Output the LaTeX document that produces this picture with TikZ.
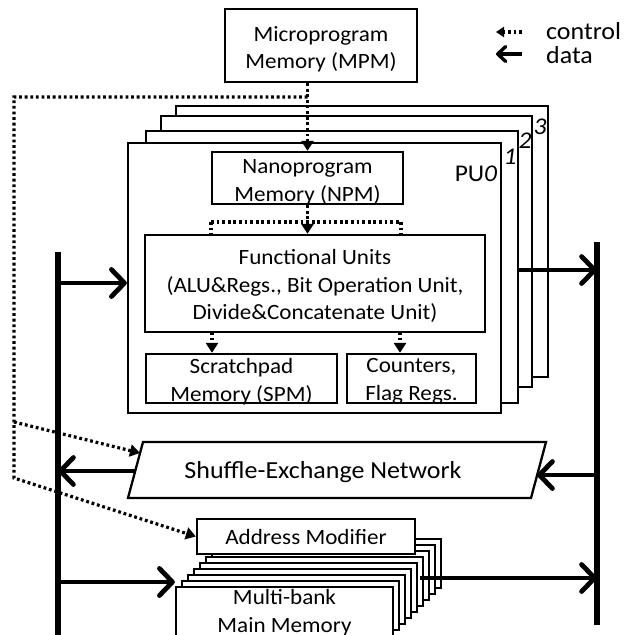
\documentclass[tikz,border=0pt]{standalone}
\usepackage{fontspec}
\setmainfont{Carlito}[FakeStretch=1.06]
\usetikzlibrary{arrows.meta}
\begin{document}
\begin{tikzpicture}[x=1pt,y=-1pt,
  box/.style={draw, line width=2.3pt, fill=white, inner sep=0pt},
  txt/.style={inner sep=0pt, align=center, font=\fontsize{21.8}{27.5}\selectfont},
  membox/.style={draw, line width=2.3pt, fill=white, inner sep=0pt, minimum width=217pt, minimum height=49pt},
  ctrl/.style={line width=3.2pt, dash pattern=on 2.8pt off 2.8pt, -{Triangle[length=10pt,width=12pt]}},
  ctrlplain/.style={line width=3.2pt, dash pattern=on 2.8pt off 2.8pt},
  data/.style={line width=4.8pt, -{Straight Barb[length=13pt,width=27pt,round]}},
  legdata/.style={line width=3.4pt, -{Straight Barb[length=8pt,width=15pt,round]}},
  legctrl/.style={line width=3.2pt, dash pattern=on 2.8pt off 2.8pt, -{Triangle[length=8pt,width=10pt]}},
  bus/.style={line width=5.5pt},
  lbl/.style={inner sep=0pt, font=\fontsize{24.5}{28}\selectfont}]
\useasboundingbox (0,0) rectangle (630,635);
\fill[white] (0,0) rectangle (630,635);

% legend
\node[lbl, anchor=west] (lgc) at (546,31) {control};
\node[lbl, anchor=west] (lgd) at (546,55) {data};
\coordinate (lc1) at (522,32);
\coordinate (lc0) at (496,32);
\coordinate (ld1) at (522,54);
\coordinate (ld0) at (496,54);
\draw[legctrl] (lc1) -- (lc0);
\draw[legdata] (ld1) -- (ld0);

% PU stack
\node[box, minimum width=372pt, minimum height=271pt] (pu3) at (362,241.5) {};
\node[box, minimum width=371pt, minimum height=271pt] (pu2) at (346.5,251.5) {};
\node[box, minimum width=372pt, minimum height=272pt] (pu1) at (332,267) {};
\node[box, minimum width=373pt, minimum height=270pt] (pu0) at (314.5,278) {};
\node[lbl, font=\fontsize{24}{28}\selectfont\itshape] (n3) at (540,127) {3};
\node[lbl, font=\fontsize{24}{28}\selectfont\itshape] (n2) at (525,141) {2};
\node[lbl, font=\fontsize{24}{28}\selectfont\itshape] (n1) at (510,157) {1};
\node[lbl, font=\fontsize{24}{28}\selectfont] (pulbl) at (476,174) {PU\textit{0}};

% boxes
\node[box, minimum width=192pt, minimum height=73pt] (MPM) at (321,45.5) {};
\node[txt] (MPMt) at ([yshift=-4pt]MPM.center) {Microprogram\\Memory (MPM)};
\node[box, minimum width=191pt, minimum height=52pt] (NPM) at (307.5,178) {};
\node[txt] (NPMt) at ([yshift=-4.5pt]NPM.center) {Nanoprogram\\Memory (NPM)};
\node[box, minimum width=340pt, minimum height=97pt] (FU) at (315,283.5) {};
\node[txt] (FUt) at ([yshift=-2.5pt]FU.center) {Functional Units\\(ALU\&Regs., Bit Operation Unit,\\Divide\&Concatenate Unit)};
\node[box, minimum width=191pt, minimum height=49pt] (SPM) at (241.5,378.5) {};
\node[txt] (SPMt) at ([yshift=-3pt]SPM.center) {Scratchpad\\Memory (SPM)};
\node[box, minimum width=129pt, minimum height=49pt] (CNT) at (411.5,378.5) {};
\node[txt] (CNTt) at ([yshift=-3pt]CNT.center) {Counters,\\Flag Regs.};

% shuffle-exchange network
\coordinate (se1) at (143,442);
\coordinate (se2) at (546,442);
\coordinate (se3) at (531,498);
\coordinate (se4) at (128,498);
\draw[line width=2.3pt, fill=white] (se1) -- (se2) -- (se3) -- (se4) -- cycle;
\node[lbl] (SE) at (323,472.5) {Shuffle-Exchange Network};

% memory banks
\foreach \k in {8,7,...,1} {
  \node[membox] (mem\k) at ({284.5+6*\k},{611.5-6*\k}) {};
}
\node[membox] (mem0) at (284.5,611.5) {};
\node[txt, font=\fontsize{21.8}{28}\selectfont] (memt) at (284.5,613) {Multi-bank\\Main Memory};
\node[box, minimum width=218pt, minimum height=35pt] (AM) at (306,536.5) {};
\node[txt] (AMt) at ([yshift=-1pt]AM.center) {Address Modifier};

% buses
\coordinate (lbt) at (58,252);
\coordinate (lbb) at (58,640);
\coordinate (rbt) at (597,242);
\coordinate (rbb) at (597,625);
\draw[bus] (lbt) -- (lbb);
\draw[bus] (rbt) -- (rbb);

% data arrows
\coordinate (l1) at (58,283);
\draw[data] (l1) -- (l1 -| pu0.west);
\coordinate (r1) at (597,270);
\draw[data] (r1 -| pu1.east) -- (r1);
\coordinate (r2) at (597,475);
\coordinate (ser) at (537,475);
\draw[data] (r2) -- (ser);
\coordinate (sel) at (135,471);
\coordinate (l2) at (58,471);
\draw[data] (sel) -- (l2);
\coordinate (l3) at (58,582);
\draw[data] (l3) -- (l3 -| mem0.west);
\coordinate (mout) at (420,578);
\coordinate (r3) at (597,578);
\draw[data] (mout) -- (r3);

% control arrows
\coordinate (c0) at (NPM.north |- MPM.south);
\draw[ctrl] (c0) -- (NPM.north);
\coordinate (k1) at (307.5,97);
\coordinate (k2) at (14,97);
\coordinate (k3) at (14,478);
\coordinate (k4) at (14,422);
\coordinate (sea) at (140,453);
\draw[ctrl] (k1) -- (k2) -- (k3) -- (AM.west);
\draw[ctrl] (k4) -- (sea);

\coordinate (s0) at (307.5,222);
\coordinate (sL) at (211,222);
\coordinate (sR) at (401,222);
\draw[ctrlplain] (NPM.south) -- (s0);
\draw[ctrlplain] (sL) -- (sR);
\draw[ctrlplain] (sL) -- (sL |- FU.north);
\draw[ctrlplain] (sR) -- (sR |- FU.north);
\draw[ctrl] (s0) -- (s0 |- FU.north);

\coordinate (f1) at (212,332);
\coordinate (f2) at (400,332);
\draw[ctrl] (f1) -- (f1 |- SPM.north);
\draw[ctrl] (f2) -- (f2 |- CNT.north);
\end{tikzpicture}
\end{document}
